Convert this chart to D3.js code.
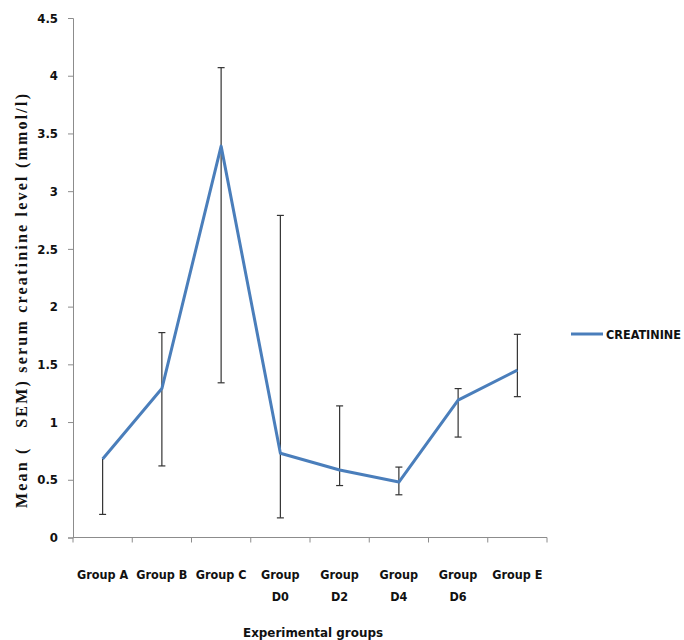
<!DOCTYPE html>
<html>
<head>
<meta charset="utf-8">
<script src="https://cdn.jsdelivr.net/npm/d3@7"></script>
<style>
  body { margin: 0; background: #fff; }
  svg { display: block; }
  .tick text { font-family: "DejaVu Sans Condensed", "Liberation Sans Narrow", sans-serif; font-weight: bold; font-size: 13px; fill: #111; }
</style>
</head>
<body>
<script>
// chart data
var categories = ["Group A", "Group B", "Group C", "Group D0", "Group D2", "Group D4", "Group D6", "Group E"];
var creatinine = [0.68, 1.29, 3.39, 0.73, 0.585, 0.48, 1.19, 1.45];
var err_low = [0.2, 0.62, 1.34, 0.17, 0.45, 0.37, 0.87, 1.22];
var err_high = [null, 1.775, 4.07, 2.79, 1.14, 0.61, 1.29, 1.76];
var y_ticks = [0, 0.5, 1, 1.5, 2, 2.5, 3, 3.5, 4, 4.5];

var w = 684, h = 640;
var plot_left = 73, plot_right = 547, plot_top = 18, plot_bottom = 537.5;

var svg = d3.select("body").append("svg").attr("width", w).attr("height", h);

var x = d3.scaleBand().domain(categories).range([plot_left, plot_right]).padding(0);
var y = d3.scaleLinear().domain([0, 4.5]).range([plot_bottom, plot_top]);

// y axis
var yAxis = svg.append("g")
    .attr("transform", "translate(" + plot_left + ",0)")
    .call(d3.axisLeft(y).tickValues(y_ticks).tickSize(5).tickPadding(10)
      .tickFormat(function(d){ return d; }));
yAxis.selectAll("line, path").attr("stroke", "#8c8c8c");

// x axis (ticks on category boundaries)
svg.append("line")
    .attr("x1", plot_left).attr("x2", plot_right)
    .attr("y1", plot_bottom).attr("y2", plot_bottom)
    .attr("stroke", "#8c8c8c");
var bounds = categories.map(function(c){ return x(c); }).concat([plot_right]);
svg.selectAll("line.xtick")
    .data(bounds)
    .enter()
    .append("line")
    .attr("class", "xtick")
    .attr("x1", function(d){ return d; })
    .attr("x2", function(d){ return d; })
    .attr("y1", plot_bottom)
    .attr("y2", plot_bottom + 5)
    .attr("stroke", "#8c8c8c");

// category labels, wrapped like Excel
var labelFont = '"DejaVu Sans Condensed", "Liberation Sans Narrow", sans-serif';
svg.selectAll("text.xlab")
    .data(categories)
    .enter()
    .append("text")
    .attr("class", "xlab")
    .attr("text-anchor", "middle")
    .attr("font-family", labelFont)
    .attr("font-weight", "bold")
    .attr("font-size", "12.5px")
    .attr("fill", "#111")
    .each(function(d){
      var t = d3.select(this);
      var cx = x(d) + x.bandwidth() / 2;
      var parts = d.split(" ");
      if (parts[1].length > 1) {
        t.append("tspan").attr("x", cx).attr("y", 579).text(parts[0]);
        t.append("tspan").attr("x", cx).attr("y", 601).text(parts[1]);
      } else {
        t.append("tspan").attr("x", cx).attr("y", 579).text(d);
      }
    });

// error bars
var bars = svg.append("g").attr("stroke", "#333").attr("stroke-width", 1.2);
categories.forEach(function(c, i){
  var cx = x(c) + x.bandwidth() / 2;
  var hi = err_high[i] == null ? creatinine[i] : err_high[i];
  bars.append("line")
      .attr("x1", cx).attr("x2", cx)
      .attr("y1", y(err_low[i])).attr("y2", y(hi));
  bars.append("line")
      .attr("x1", cx - 3.5).attr("x2", cx + 3.5)
      .attr("y1", y(err_low[i])).attr("y2", y(err_low[i]));
  if (err_high[i] != null) {
    bars.append("line")
        .attr("x1", cx - 3.5).attr("x2", cx + 3.5)
        .attr("y1", y(err_high[i])).attr("y2", y(err_high[i]));
  }
});

// series line
var line = d3.line()
    .x(function(d, i){ return x(categories[i]) + x.bandwidth() / 2; })
    .y(function(d){ return y(d); });
svg.append("path")
    .datum(creatinine)
    .attr("d", line)
    .attr("fill", "none")
    .attr("stroke", "#4a7ebb")
    .attr("stroke-width", 3)
    .attr("stroke-linejoin", "round");

// legend
svg.append("line")
    .attr("x1", 571).attr("x2", 603)
    .attr("y1", 334).attr("y2", 334)
    .attr("stroke", "#4a7ebb").attr("stroke-width", 3);
svg.append("text")
    .attr("x", 606).attr("y", 338.5)
    .attr("font-family", labelFont)
    .attr("font-weight", "bold")
    .attr("font-size", "12px")
    .attr("textLength", 75)
    .attr("lengthAdjust", "spacingAndGlyphs")
    .attr("fill", "#111")
    .text("CREATININE");

// axis titles
svg.append("text")
    .attr("x", 243).attr("y", 637)
    .attr("font-family", labelFont)
    .attr("font-weight", "bold")
    .attr("font-size", "12px")
    .attr("textLength", 140)
    .attr("lengthAdjust", "spacingAndGlyphs")
    .attr("fill", "#111")
    .text("Experimental groups");

svg.append("text")
    .attr("transform", "translate(27,508) rotate(-90)")
    .attr("font-family", '"Liberation Serif", "DejaVu Serif", serif')
    .attr("font-weight", "bold")
    .attr("font-size", "16px")
    .attr("textLength", 414)
    .attr("lengthAdjust", "spacing")
    .attr("fill", "#111")
    .attr("xml:space", "preserve")
    .style("white-space", "pre")
    .text("Mean (   SEM) serum creatinine level (mmol/l)");
</script>
</body>
</html>
